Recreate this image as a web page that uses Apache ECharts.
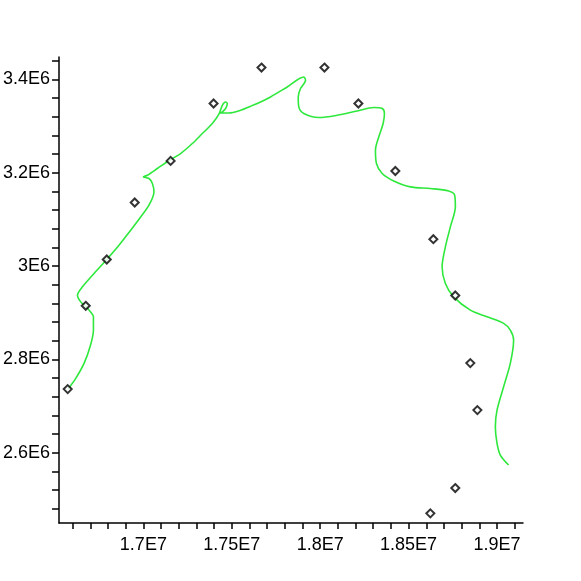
<!DOCTYPE html>
<html>
<head>
<meta charset="utf-8">
<script src="https://cdn.jsdelivr.net/npm/echarts@6/dist/echarts.min.js"></script>
<style>
  html, body { margin: 0; padding: 0; background: #fff; }
  #chart { width: 581px; height: 581px; }
</style>
</head>
<body>
<div id="chart"></div>
<script>
// measured points (black diamonds)
var pointX = [16572000, 16674000, 16793000, 16951000, 17154000, 17397000, 17668000, 18024000,
  18216000, 18425000, 18640000, 18764000, 18849000, 18889000, 18764000, 18623000];
var pointY = [2736200, 2914600, 3013900, 3136000, 3225100, 3348000, 3425100, 3425100,
  3348000, 3203400, 3057400, 2936800, 2791900, 2691200, 2524200, 2470000];

// fitted curve (green)
var curveX = [16574000, 16617500, 16664400, 16698300, 16717500, 16717500, 16692600, 16670000,
  16645700, 16627100, 16655400, 16720900, 16792600, 16862100, 16928200, 16984700,
  17031600, 17059900, 17050900, 17031600, 17000000, 17022600, 17079100, 17154200,
  17210700, 17276900, 17333400, 17389900, 17427100, 17446400, 17465000, 17474600,
  17465000, 17446400, 17432800, 17483600, 17549700, 17606200, 17662700, 17719200,
  17813600, 17907400, 17917000, 17888700, 17875800, 17879100, 17907400, 17992100,
  18096100, 18209100, 18302900, 18350400, 18363300, 18356000, 18331100, 18312500,
  18318100, 18350400, 18415900, 18510200, 18623200, 18726600, 18760500, 18764500,
  18736200, 18708000, 18689400, 18708000, 18754900, 18849200, 18943600, 19037400,
  19075200, 19093900, 19075200, 19037400, 19000100, 18990500, 19000100, 19018700, 19065600];
var curveY = [2736200, 2759100, 2791200, 2826800, 2862500, 2891000, 2905400, 2914600,
  2923100, 2937500, 2955300, 2983900, 3013900, 3044500, 3076700, 3105100,
  3130200, 3158700, 3176700, 3187400, 3190800, 3194400, 3208800, 3228100,
  3240900, 3262300, 3283700, 3305100, 3325100, 3344300, 3351400, 3348000,
  3337300, 3330000, 3327800, 3327800, 3333600, 3342200, 3351400, 3362100,
  3383500, 3404900, 3397900, 3380100, 3362100, 3340700, 3326600, 3318000,
  3322900, 3332100, 3339400, 3337300, 3326600, 3305100, 3276400, 3248000,
  3219500, 3198100, 3182200, 3169400, 3166000, 3160800, 3151600, 3126600,
  3083700, 3040900, 2998100, 2962500, 2933800, 2905400, 2891000, 2876900,
  2862500, 2841100, 2791200, 2741100, 2691200, 2655500, 2619900, 2594900, 2573500];

// tick labels
var xLabelValues = [17000000, 17500000, 18000000, 18500000, 19000000];
var xLabelTexts = ['1.7E7', '1.75E7', '1.8E7', '1.85E7', '1.9E7'];
var yLabelValues = [2600000, 2800000, 3000000, 3200000, 3400000];
var yLabelTexts = ['2.6E6', '2.8E6', '3E6', '3.2E6', '3.4E6'];

// small ticks every 0.01E7 / 0.04E6
var xTicks = [];
for (var i = 166; i <= 191; i++) xTicks.push(i * 100000);
var yTicks = [];
for (var j = 62; j <= 86; j++) yTicks.push(j * 40000);

function pairs(xs, ys) {
  return xs.map(function (x, k) { return [x, ys[k]]; });
}

var myChart = echarts.init(document.getElementById('chart'));
var font = 'Liberation Sans';

var option = {
  animation: false,
  backgroundColor: '#fff',
  grid: { left: 58, right: 58, top: 57, bottom: 58 },
  xAxis: {
    type: 'value',
    min: 16523000,
    max: 19147000,
    axisLine: { onZero: false, lineStyle: { color: '#000', width: 1.5 } },
    axisTick: { customValues: xTicks, length: 6, lineStyle: { color: '#000', width: 1.5 } },
    axisLabel: {
      customValues: xLabelValues,
      margin: 13,
      color: '#000',
      fontSize: 18,
      fontFamily: font,
      formatter: function (v) {
        var k = xLabelValues.indexOf(v);
        return k >= 0 ? xLabelTexts[k] : '';
      }
    },
    splitLine: { show: false }
  },
  yAxis: {
    type: 'value',
    min: 2449300,
    max: 3447700,
    axisLine: { show: true, lineStyle: { color: '#000', width: 1.5 } },
    axisTick: { show: true, customValues: yTicks, length: 7, lineStyle: { color: '#000', width: 1.5 } },
    axisLabel: {
      customValues: yLabelValues,
      margin: 9,
      color: '#000',
      fontSize: 18,
      fontFamily: font,
      formatter: function (v) {
        var k = yLabelValues.indexOf(v);
        return k >= 0 ? yLabelTexts[k] : '';
      }
    },
    splitLine: { show: false }
  },
  series: [
    {
      type: 'line',
      data: pairs(curveX, curveY),
      smooth: 0.3,
      showSymbol: false,
      lineStyle: { color: '#2ee83c', width: 1.6 },
      z: 2
    },
    {
      type: 'scatter',
      data: pairs(pointX, pointY),
      symbol: 'diamond',
      symbolSize: 8,
      itemStyle: { color: '#fff', borderColor: '#000', borderWidth: 2 },
      z: 3
    }
  ]
};
myChart.setOption(option);

window.addEventListener('resize', function () {
  myChart.resize();
});
</script>
</body>
</html>
